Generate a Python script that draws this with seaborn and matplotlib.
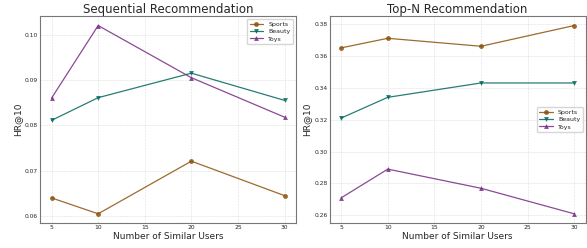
import matplotlib
matplotlib.use("Agg")
import matplotlib.pyplot as plt
import seaborn as sns
import pandas as pd

users = [5, 10, 20, 30]
datasets = ["Sports", "Beauty", "Toys"]

seq_sports = [0.0640, 0.0605, 0.0721, 0.0645]
seq_beauty = [0.0811, 0.0861, 0.0915, 0.0855]
seq_toys = [0.0860, 0.1020, 0.0905, 0.0818]

topn_sports = [0.365, 0.371, 0.366, 0.379]
topn_beauty = [0.321, 0.334, 0.343, 0.343]
topn_toys = [0.271, 0.289, 0.277, 0.261]

colors = ["#8c510a", "#01665e", "#762a83"]
markers = ["o", "v", "^"]

sns.set_style("whitegrid", {"grid.linestyle": "--", "axes.edgecolor": "#777777"})
plt.rcParams["font.family"] = ["DejaVu Sans"]


def to_frame(series):
    rows = []
    for name, vals in zip(datasets, series):
        for u, v in zip(users, vals):
            rows.append({"users": u, "hr": v, "dataset": name})
    return pd.DataFrame(rows)


fig, axes = plt.subplots(1, 2, figsize=(5.87, 2.48), dpi=100)

panels = [
    ("Sequential Recommendation", [seq_sports, seq_beauty, seq_toys], "upper right"),
    ("Top-N Recommendation", [topn_sports, topn_beauty, topn_toys], "center right"),
]

for ax, (title, series, loc) in zip(axes, panels):
    df = to_frame(series)
    for i, name in enumerate(datasets):
        sub = df[df["dataset"] == name]
        sns.lineplot(data=sub, x="users", y="hr", ax=ax, color=colors[i],
                     marker=markers[i], markersize=3.5, linewidth=0.9,
                     markeredgewidth=0, alpha=0.85, label=name)
    ax.set_title(title, fontsize=8.5, pad=2)
    ax.set_xlabel("Number of Similar Users", fontsize=6.5, labelpad=1)
    ax.set_ylabel("HR@10", fontsize=6.5, labelpad=2)
    ax.tick_params(labelsize=4.3, pad=1.5, length=0)
    ax.set_xticks([5, 10, 15, 20, 25, 30])
    ax.grid(True, linestyle="--", linewidth=0.4, color="#dddddd")
    for s in ax.spines.values():
        s.set_linewidth(0.8)
        s.set_color("#777777")
    ax.legend(loc=loc, fontsize=4.5, frameon=True, handlelength=2.2,
              borderpad=0.4, labelspacing=0.3)

axes[0].set_yticks([0.06, 0.07, 0.08, 0.09, 0.10])
axes[1].set_yticks([0.26, 0.28, 0.30, 0.32, 0.34, 0.36, 0.38])

fig.subplots_adjust(left=0.068, right=0.998, bottom=0.10, top=0.935, wspace=0.13)
fig.savefig("out.png", dpi=100)
